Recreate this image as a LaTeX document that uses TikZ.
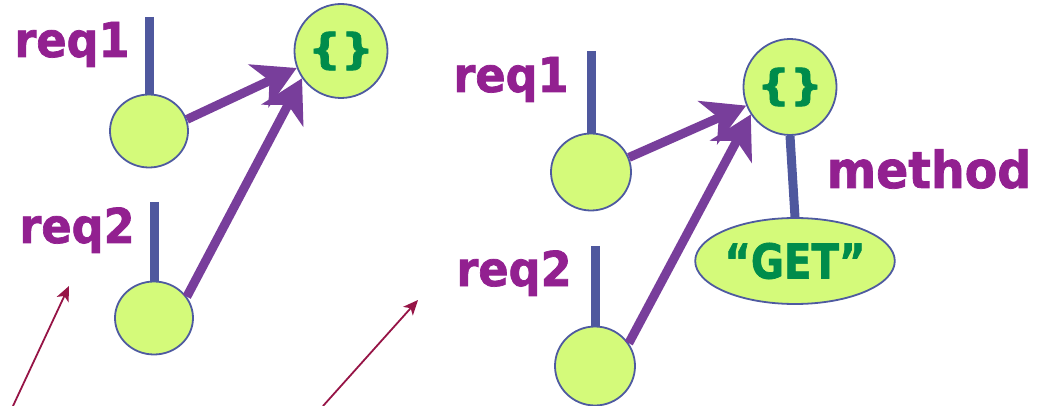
\documentclass[tikz,border=0pt]{standalone}
\usepackage{fontspec}
\setmainfont{DejaVu Sans}
\newfontfamily\heavy[FakeBold=1.5]{DejaVu Sans Bold}
\usepackage{graphicx}
\usetikzlibrary{shapes.geometric,arrows.meta}

\definecolor{labelc}{RGB}{146,32,144}
\definecolor{stemc}{RGB}{79,88,158}
\definecolor{fillc}{RGB}{212,250,122}
\definecolor{edgec}{RGB}{78,90,160}
\definecolor{bracec}{RGB}{0,140,75}
\definecolor{arrowc}{RGB}{120,62,155}
\definecolor{thinc}{RGB}{150,20,70}

\newcommand{\narrow}[1]{\scalebox{0.93}[1]{#1}}

\tikzset{
  obj/.style={ellipse, draw=edgec, line width=1.8pt, fill=fillc, inner sep=0pt},
  lbl/.style={anchor=base, inner sep=0pt, text=labelc, font=\heavy\fontsize{48}{52}\selectfont},
  brace/.style={text=bracec, font=\heavy\fontsize{42}{46}\selectfont},
  stem/.style={draw=stemc, line width=9pt},
  ref/.style={draw=arrowc, line width=9pt, -{Stealth[length=42pt,width=47pt,inset=12pt]}},
  pointer/.style={draw=thinc, line width=1.8pt, -{Stealth[length=15pt,width=13pt,inset=4pt]}}
}

\begin{document}
\begin{tikzpicture}[x=1pt,y=-1pt]
\useasboundingbox (0,0) rectangle (1047,406);

% ---- first state: two requests sharing one object ----
\node[obj, minimum width=78pt, minimum height=73pt] (a1) at (149,131) {};
\node[obj, minimum width=78pt, minimum height=73pt] (a2) at (154,318) {};
\node[obj, minimum width=88pt, minimum height=94pt, brace] (b1) at (341,51)
      {\scalebox{1.1}[1]{\{\}}};

\node[lbl] (l1) at (72,57) {\narrow{req1}};
\node[lbl] (l2) at (77,243) {\narrow{req2}};

\coordinate (s1) at (149,17);
\coordinate (s2) at (154,202);
\draw[stem] (s1) -- (a1.north);
\draw[stem] (s2) -- (a2.north);

\draw[ref] (a1.17) -- (b1.201);
\draw[ref] (a2.33) -- (b1.215);

% ---- second state: the shared object gains a method property ----
\node[obj, minimum width=80pt, minimum height=77pt] (c1) at (591,172) {};
\node[obj, minimum width=80pt, minimum height=79pt] (c2) at (595,366) {};
\node[obj, minimum width=91pt, minimum height=96pt, brace] (d) at (790,87)
      {\scalebox{1.1}[1]{\{\}}};
\node[obj, minimum width=196pt, minimum height=86pt, text=bracec,
      font=\heavy\fontsize{48}{52}\selectfont] (g) at (795,261)
      {\scalebox{0.84}[1]{“GET”}};

\node[lbl] (r1) at (511,92) {\narrow{req1}};
\node[lbl] (r2) at (514,286) {\narrow{req2}};
\node[lbl, font=\heavy\fontsize{51}{55}\selectfont] (m) at (929,188) {\narrow{method}};

\coordinate (t1) at (591,51);
\coordinate (t2) at (595,246);
\draw[stem] (t1) -- (c1.north);
\draw[stem] (t2) -- (c2.north);
\draw[stem] (d.south) -- (g.north);

\draw[ref] (c1.21) -- (d.203);
\draw[ref] (c2.34) -- (d.215);

% ---- pointers into the two states ----
\coordinate (p1) at (13,406);
\coordinate (q1) at (69,286);
\coordinate (p2) at (323,406);
\coordinate (q2) at (418,300);
\draw[pointer] (p1) -- (q1);
\draw[pointer] (p2) -- (q2);
\end{tikzpicture}
\end{document}
